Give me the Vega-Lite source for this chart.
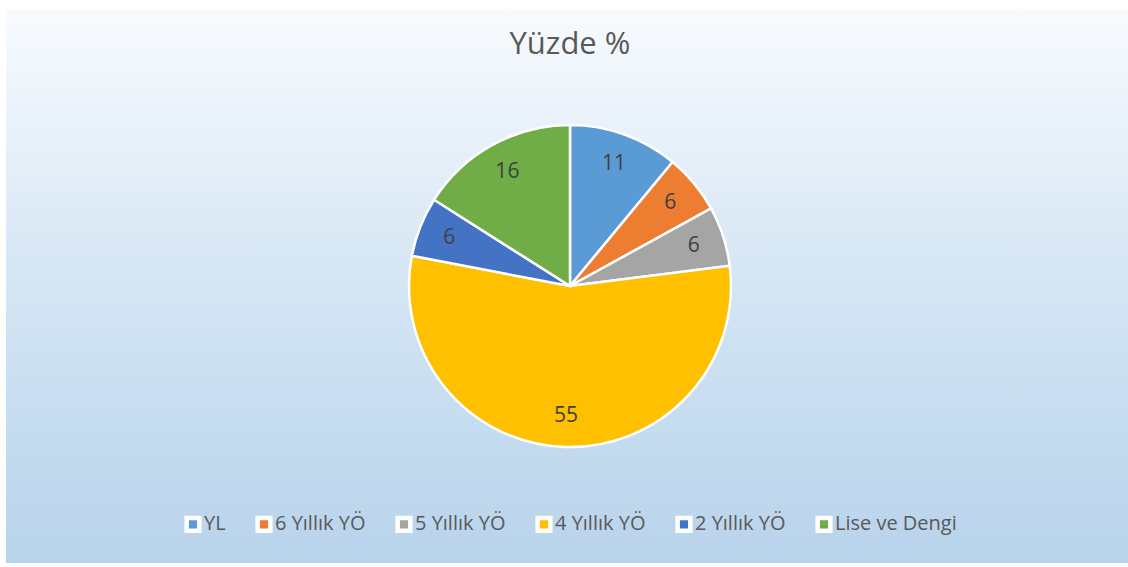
{
  "$schema": "https://vega.github.io/schema/vega-lite/v6.json",
  "width": 1128,
  "height": 567,
  "autosize": {"type": "fit", "contains": "padding"},
  "padding": {"left": 6, "right": -6, "top": 9, "bottom": 4},
  "background": "#ffffff",
  "config": {
    "view": {"stroke": null},
    "font": "Open Sans"
  },
  "title": {
    "text": "Yüzde %",
    "orient": "top",
    "anchor": "middle",
    "offset": -52,
    "fontSize": 31,
    "fontWeight": "normal",
    "color": "#595959",
    "font": "Open Sans"
  },
  "data": {
    "values": [
      {"kategori": "YL", "yuzde": 11, "sira": 1},
      {"kategori": "6 Yıllık YÖ", "yuzde": 6, "sira": 2},
      {"kategori": "5 Yıllık YÖ", "yuzde": 6, "sira": 3},
      {"kategori": "4 Yıllık YÖ", "yuzde": 55, "sira": 4},
      {"kategori": "2 Yıllık YÖ", "yuzde": 6, "sira": 5},
      {"kategori": "Lise ve Dengi", "yuzde": 16, "sira": 6}
    ]
  },
  "layer": [
    {
      "data": {"values": [{"arka": 1}]},
      "mark": {
        "type": "rect",
        "fill": {
          "gradient": "linear",
          "x1": 0, "y1": 0, "x2": 0, "y2": 1,
          "stops": [
            {"offset": 0, "color": "#f8fbfe"},
            {"offset": 0.5, "color": "#d4e5f4"},
            {"offset": 1, "color": "#b8d3eb"}
          ]
        }
      },
      "encoding": {}
    },
    {
      "mark": {"type": "arc", "outerRadius": 161, "stroke": "#ffffff", "strokeWidth": 2.5},
      "encoding": {
        "theta": {"field": "yuzde", "type": "quantitative", "stack": true},
        "order": {"field": "sira", "type": "quantitative"},
        "color": {
          "field": "kategori",
          "type": "nominal",
          "sort": ["YL", "6 Yıllık YÖ", "5 Yıllık YÖ", "4 Yıllık YÖ", "2 Yıllık YÖ", "Lise ve Dengi"],
          "scale": {
            "domain": ["YL", "6 Yıllık YÖ", "5 Yıllık YÖ", "4 Yıllık YÖ", "2 Yıllık YÖ", "Lise ve Dengi"],
            "range": ["#5b9bd5", "#ed7d31", "#a5a5a5", "#ffc000", "#4472c4", "#70ad47"]
          },
          "legend": {
            "title": null,
            "orient": "none",
            "direction": "horizontal",
            "legendX": 177,
            "legendY": 505,
            "symbolType": "square",
            "symbolSize": 160,
            "symbolStrokeColor": "#ffffff",
            "symbolStrokeWidth": 4.5,
            "symbolOpacity": 1,
            "labelFontSize": 20,
            "labelColor": "#595959",
            "labelFont": "Open Sans",
            "labelOffset": 1,
            "columnPadding": 22,
            "labelLimit": 300
          }
        }
      }
    },
    {
      "mark": {"type": "text", "radius": 130, "fontSize": 21, "color": "#404040", "font": "Open Sans"},
      "encoding": {
        "theta": {"field": "yuzde", "type": "quantitative", "stack": true},
        "order": {"field": "sira", "type": "quantitative"},
        "text": {"field": "yuzde", "type": "quantitative"}
      }
    }
  ]
}
